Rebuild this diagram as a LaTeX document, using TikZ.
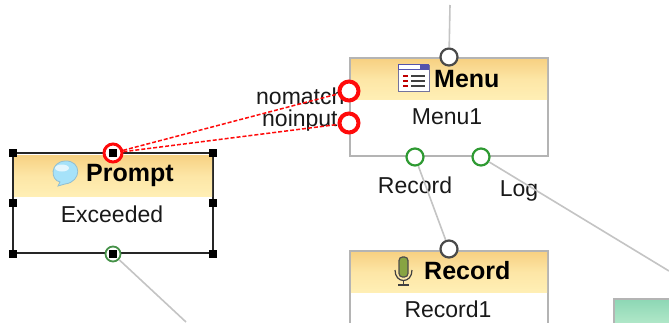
\documentclass[tikz,border=0pt]{standalone}
\usepackage{fontspec}
\setmainfont{Liberation Sans}
\definecolor{boxgray}{HTML}{B4B4B4}
\definecolor{headtop}{HTML}{F7D183}
\definecolor{headbot}{HTML}{FFEFB5}
\definecolor{portgreen}{HTML}{2E9A32}
\definecolor{linegray}{HTML}{C4C4C4}
\definecolor{portred}{HTML}{FF0A0A}
\definecolor{portdark}{HTML}{4A4A4A}
\tikzset{
  x=1pt,y=-1pt,
  body/.style={draw=boxgray,line width=1.6pt,fill=white,minimum width=198.4pt,minimum height=98.2pt,inner sep=0pt,anchor=north west},
  head/.style={top color=headtop,bottom color=headbot,middle color=headbot!70!headtop,draw=none,minimum width=196pt,minimum height=40pt,inner sep=0pt,anchor=north west},
  title/.style={font=\bfseries\fontsize{25}{25}\selectfont,text=black,inner sep=0pt,anchor=west},
  sub/.style={font=\fontsize{23}{23}\selectfont,text=black!90,inner sep=0pt},
  lab/.style={font=\fontsize{23}{23}\selectfont,text=black!90,inner sep=0pt},
  port/.style={circle,fill=white,line width=2.2pt,minimum size=17pt,inner sep=0pt},
  portG/.style={port,draw=portgreen},
  portK/.style={port,draw=portdark},
  portR/.style={port,draw=portred,line width=4pt,minimum size=19pt},
  conn/.style={draw=linegray,line width=1.6pt},
  redconn/.style={draw=portred,line width=1.5pt,dash pattern=on 4pt off 2pt},
  handle/.style={fill=black,draw=none,minimum size=8pt,inner sep=0pt},
}
\begin{document}
\begin{tikzpicture}
\useasboundingbox (0,0) rectangle (669,322);
\clip (0,0) rectangle (669,322);
\fill[white] (0,0) rectangle (669,322);

% free ends
\coordinate (topend) at (450,5);
\coordinate (promptend) at (186,322);
\coordinate (logend) at (669,271);

% boxes
\node[body] (menu) at (349,57) {};
\node[head] (menuhead) at (351,59) {};
\node[body] (record) at (349,250) {};
\node[head] (recordhead) at (351,252) {};
\node[body,draw=black!85,line width=2pt,minimum width=200pt,minimum height=100pt] (prompt) at (12,152) {};
\node[head,minimum width=198pt,minimum height=41pt] (prompthead) at (14,155) {};
\node[draw=boxgray,line width=1.6pt,anchor=north west,minimum width=80pt,minimum height=60pt,inner sep=0pt,top color=green!30!teal!45!white,bottom color=green!10!white] (other) at (613,298) {};

% icons: menu
\fill[white,draw=blue!30!black!55,line width=1pt] (398,65) rectangle (429,91);
\fill[blue!35!gray] (398,64) rectangle (429,70);
\fill[white] (399,65) rectangle (420,69);
\foreach \yy in {76,81,86}{
  \fill[red!75!black] (403,\yy-1) rectangle (408,\yy+1);
  \fill[black!75] (411,\yy-1) rectangle (425,\yy+1);
}
% icon: speech bubble
\fill[cyan!35!white,draw=cyan!45!gray!70,line width=.8pt] (65,184) -- (58,186)-- (60,182) .. controls (50,180) and (50,162) .. (65,161) .. controls (82,160) and (82,182) .. (65,184) -- cycle;
\fill[white,opacity=.7] (62,168) ellipse (7pt and 3.5pt);
% icon: microphone
\fill[yellow!60!green!70!black,draw=black!70,line width=1.2pt,rounded corners=3.5pt] (399,257) rectangle (408,277);
\draw[black!75,line width=1.2pt] (395,270) .. controls (395,284) and (412,284) .. (412,270);
\draw[black!75,line width=1.2pt] (403.5,281) -- (403.5,285) (398,285) -- (409,285);

% titles and texts
\node[title] (menutitle) at (434,79) {Menu};
\node[sub] (menusub) at (447,117) {Menu1};
\node[title] (prompttitle) at (86,175) {Prompt};
\node[sub] (promptsub) at (112,214) {Exceeded};
\node[title] (recordtitle) at (424,271) {Record};
\node[sub] (recordsub) at (448,309) {Record1};
\node[lab,anchor=west] (nomatch) at (256,96) {nomatch};
\node[lab,anchor=west] (noinput) at (262,121) {noinput};
\node[lab] (reclab) at (415,185) {Record};
\node[lab] (loglab) at (519,191) {Log};

% ports
\node[portK] (ptop) at (449,57) {};
\node[portR] (pno) at (349,91) {};
\node[portR] (pni) at (349,123) {};
\node[portG] (prec) at (415,157) {};
\node[portG] (plog) at (481,157) {};
\node[portK] (precin) at (449,249) {};
\node[portR,minimum size=18pt,line width=3pt] (ppin) at (113,153) {};
\node[portG,draw=portgreen!70!gray,line width=1.8pt,minimum size=15pt] (ppout) at (113,254) {};

% connectors
\draw[conn] (topend) -- (ptop);
\draw[conn] (ppout) -- (promptend);
\draw[conn] (plog) -- (logend);
\draw[conn] (prec) -- (precin);
\draw[redconn] (ppin) -- (pno);
\draw[redconn] (ppin) -- (pni);

% selection handles
\node[handle] (h1) at (13,153) {};
\node[handle] (h2) at (113,153) {};
\node[handle] (h3) at (213,153) {};
\node[handle] (h4) at (13,203) {};
\node[handle] (h5) at (213,203) {};
\node[handle] (h6) at (13,254) {};
\node[handle] (h7) at (113,254) {};
\node[handle] (h8) at (213,254) {};
\end{tikzpicture}
\end{document}
